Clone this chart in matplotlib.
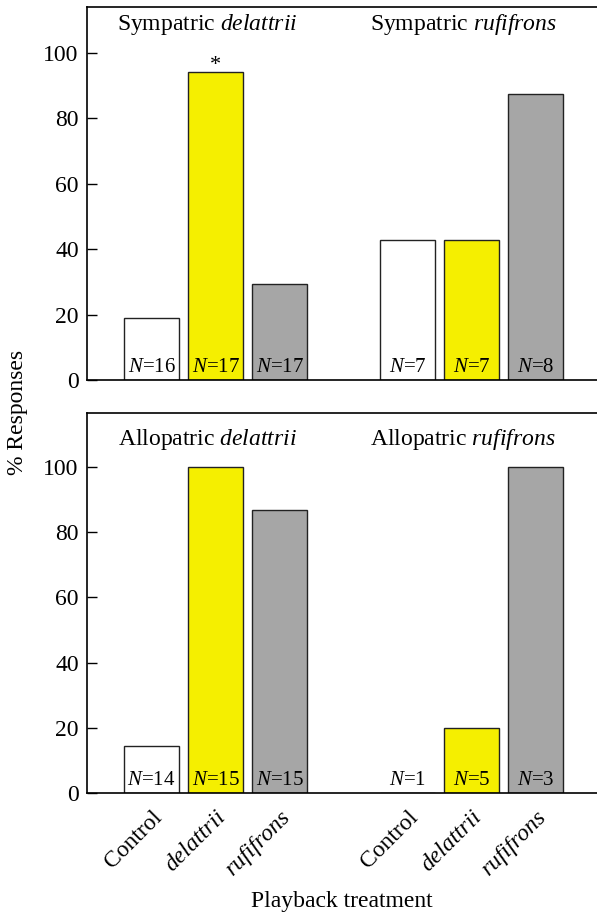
import matplotlib
matplotlib.use("Agg")
import matplotlib.pyplot as plt

plt.rcParams['font.family'] = 'Liberation Serif'
plt.rcParams['mathtext.fontset'] = 'custom'
plt.rcParams['mathtext.rm'] = 'Liberation Serif'
plt.rcParams['mathtext.it'] = 'Liberation Serif:italic'

# data
treatments = ['Control', 'delattrii', 'rufifrons']
positions = [0, 1, 2, 4, 5, 6]
colors = ['white', '#f5ef00', '#a6a6a6'] * 2

sym_values = [18.8, 94.1, 29.4, 42.9, 42.9, 87.5]
sym_n = [16, 17, 17, 7, 7, 8]
allo_values = [14.3, 100, 86.7, 0, 20, 100]
allo_n = [14, 15, 15, 1, 5, 3]

sym_titles = ['Sympatric $\\it{delattrii}$', 'Sympatric $\\it{rufifrons}$']
allo_titles = ['Allopatric $\\it{delattrii}$', 'Allopatric $\\it{rufifrons}$']

fig = plt.figure(figsize=(5.97, 9.15), dpi=100)
ax1 = fig.add_axes([0.1457, 0.5847, 0.8543, 0.4073])
ax2 = fig.add_axes([0.1457, 0.1333, 0.8543, 0.4153])


def panel(ax, values, ns, titles, ytop):
    ax.bar(positions, values, width=0.86, color=colors,
           edgecolor='#222222', linewidth=1.0, zorder=2)
    for x, n in zip(positions, ns):
        ax.text(x, 1.0, '$N$=%d' % n, ha='center', va='bottom',
                fontsize=15, zorder=3)
    ax.text(0.87, 108.5, titles[0], ha='center', va='center', fontsize=17)
    ax.text(4.87, 108.5, titles[1], ha='center', va='center', fontsize=17)
    ax.set_xlim(-1.01, 6.96)
    ax.set_ylim(0, ytop)
    ax.set_yticks([0, 20, 40, 60, 80, 100])
    ax.tick_params(axis='y', direction='in', length=7, width=1,
                   labelsize=17, pad=6)
    ax.tick_params(axis='x', length=0)
    ax.spines['right'].set_visible(False)
    for s in ['left', 'bottom', 'top']:
        ax.spines[s].set_linewidth(1.2)


panel(ax1, sym_values, sym_n, sym_titles, 113.9)
ax1.set_xticks([])
# significance mark
ax1.text(1, sym_values[1] - 0.8, '*', ha='center', va='bottom', fontsize=16)

panel(ax2, allo_values, allo_n, allo_titles, 116.5)
ax2.set_xticks(positions)
labels = ax2.set_xticklabels(treatments * 2, rotation=45, ha='right',
                             rotation_mode='anchor', fontsize=17)
for lab in labels:
    if lab.get_text() != 'Control':
        lab.set_fontstyle('italic')
ax2.tick_params(axis='x', pad=10)

fig.text(18 / 597, 1 - 412 / 915, '% Responses', rotation=90,
         ha='center', va='center', fontsize=17)
fig.text(342 / 597, 1 - 902 / 915, 'Playback treatment',
         ha='center', va='center', fontsize=17)

fig.savefig('out.png', dpi=100)
